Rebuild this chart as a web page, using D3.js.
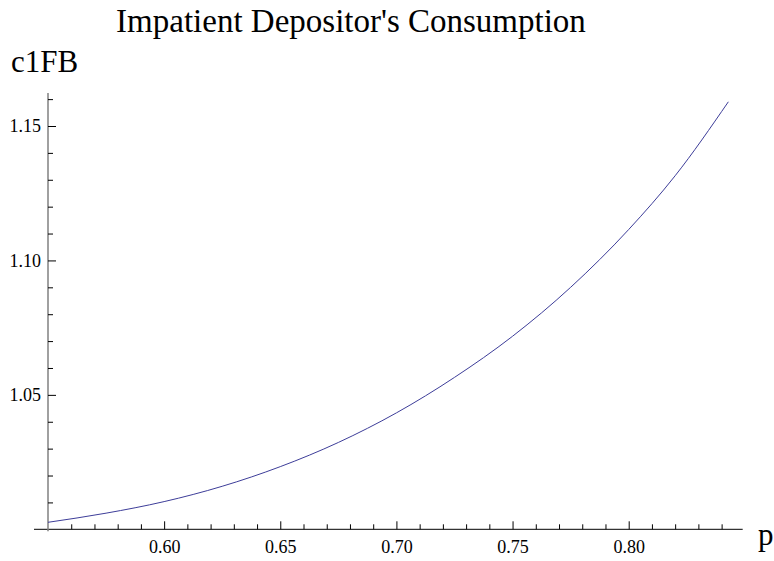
<!doctype html>
<html>
<head>
<meta charset="utf-8">
<script src="https://d3js.org/d3.v7.min.js"></script>
<style>
	body { margin: 0; background: #fff; }
	svg text { font-family: "Liberation Serif", Tinos, "Times New Roman", "DejaVu Serif", serif; fill: #000; }
</style>
</head>
<body>
<script>
	// values
	var pValues  = [0.55, 0.575, 0.60, 0.625, 0.65, 0.675, 0.70, 0.725, 0.75, 0.775, 0.80, 0.82, 0.8429];
	var c1Values = [1.0026, 1.0060, 1.0103, 1.0160, 1.0233, 1.0323, 1.0433, 1.0565, 1.0718, 1.0900, 1.1115, 1.1315, 1.1590];

	var xMajor = [0.60, 0.65, 0.70, 0.75, 0.80];
	var xMinor = [0.56, 0.57, 0.58, 0.59, 0.61, 0.62, 0.63, 0.64, 0.66, 0.67, 0.68, 0.69,
		0.71, 0.72, 0.73, 0.74, 0.76, 0.77, 0.78, 0.79, 0.81, 0.82, 0.83, 0.84];
	var yMajor = [1.05, 1.10, 1.15];
	var yMinor = [1.01, 1.02, 1.03, 1.04, 1.06, 1.07, 1.08, 1.09, 1.11, 1.12, 1.13, 1.14, 1.16];

	var title = "Impatient Depositor's Consumption";
	var xLabel = "p";
	var yLabel = "c1FB";

	var data = pValues.map(function(p, i) { return {p: p, c: c1Values[i]}; });

	var width = 774, height = 561;
	var serif = "'Liberation Serif', Tinos, 'Times New Roman', 'DejaVu Serif', serif";

	var svg = d3.select("body").append("svg")
		.attr("width", width)
		.attr("height", height);

	var xScale = d3.scaleLinear().domain([0.55, 0.80]).range([48, 628.7]);
	var yScale = d3.scaleLinear().domain([1.0, 1.15]).range([529.3, 126]);

	// title + axis labels
	svg.append("text")
		.attr("x", 351)
		.attr("y", 32)
		.attr("text-anchor", "middle")
		.style("font-family", serif)
		.style("font-size", "33px")
		.text(title);

	svg.append("text")
		.attr("x", 11)
		.attr("y", 72)
		.style("font-family", serif)
		.style("font-size", "31px")
		.text(yLabel);

	svg.append("text")
		.attr("x", 758)
		.attr("y", 545)
		.style("font-family", serif)
		.style("font-size", "31px")
		.text(xLabel);

	// x axis
	var y0 = yScale(1.0);
	svg.append("line")
		.attr("x1", 34).attr("x2", 742.7)
		.attr("y1", y0).attr("y2", y0)
		.attr("stroke", "#000").attr("stroke-width", 1);

	var gx = svg.append("g").attr("transform", "translate(0," + y0 + ")");
	gx.call(d3.axisBottom(xScale).tickValues(xMajor).tickSize(-8).tickPadding(0).tickFormat(d3.format(".2f")));
	gx.append("g").call(d3.axisBottom(xScale).tickValues(xMinor).tickSize(-5).tickFormat(""));
	gx.selectAll(".domain").remove();
	gx.attr("font-family", null);
	gx.selectAll("text")
		.attr("y", 24)
		.attr("dy", 0)
		.style("font-family", serif)
		.style("font-size", "18px");
	gx.selectAll(".tick line").attr("stroke", "#000");

	// y axis
	var x0 = xScale(0.55);
	svg.append("line")
		.attr("x1", x0).attr("x2", x0)
		.attr("y1", y0 + 2).attr("y2", yScale(1.1623))
		.attr("stroke", "#808080").attr("stroke-width", 1.5);

	var gy = svg.append("g").attr("transform", "translate(" + x0 + ",0)");
	gy.call(d3.axisLeft(yScale).tickValues(yMajor).tickSize(-8).tickPadding(0).tickFormat(d3.format(".2f")));
	gy.append("g").call(d3.axisLeft(yScale).tickValues(yMinor).tickSize(-5).tickFormat(""));
	gy.selectAll(".domain").remove();
	gy.attr("font-family", null);
	gy.selectAll("text")
		.attr("x", -7)
		.attr("dy", "0.32em")
		.style("font-family", serif)
		.style("font-size", "18px");
	gy.selectAll(".tick line").attr("stroke", "#000");

	// curve
	var line = d3.line()
		.x(function(d) { return xScale(d.p); })
		.y(function(d) { return yScale(d.c); })
		.curve(d3.curveMonotoneX);

	svg.append("path")
		.datum(data)
		.attr("d", line)
		.attr("fill", "none")
		.attr("stroke", "#3d3d99")
		.attr("stroke-width", 1);
</script>
</body>
</html>
